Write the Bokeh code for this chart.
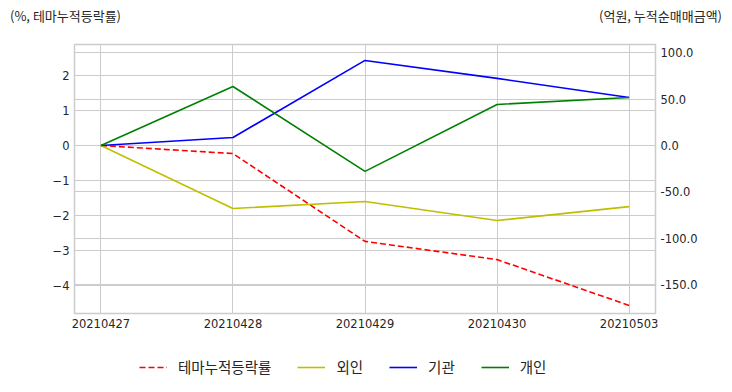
from bokeh.plotting import figure
from bokeh.models import (Range1d, LinearAxis, FixedTicker, NumeralTickFormatter,
                          Grid, Legend, LegendItem, Div)
from bokeh.layouts import column
from bokeh.embed import file_html
from bokeh.resources import INLINE

# ---- data ----
dates = ["20210427", "20210428", "20210429", "20210430", "20210503"]
theme_return = [0.0, -0.23, -2.74, -3.26, -4.57]      # %, left axis
foreign = [0.0, -68.0, -60.5, -81.0, -66.0]           # 억원, right axis
institution = [0.0, 8.6, 91.8, 72.4, 51.8]
individual = [0.0, 63.7, -28.0, 44.3, 51.8]
left_ticks = [2, 1, 0, -1, -2, -3, -4]
right_ticks = [100, 50, 0, -50, -100, -150]
series_names = ["테마누적등락률", "외인", "기관", "개인"]
series_colors = ["#ff0000", "#bfbf00", "#0000ff", "#008000"]
series_dash = ["6 3", "solid", "solid", "solid"]
left_title = "(%, 테마누적등락률)"
right_title = "(억원, 누적순매매금액)"

xs = list(range(len(dates)))
series_values = [theme_return, foreign, institution, individual]

GRID = "#cccccc"
TXT = "#262626"
NUM_FONT = "DejaVu Sans"
KR_FONT = "Noto Sans CJK KR"

W = 732
HEAD = 30          # header (axis titles)
MAIN = 310         # main chart
LEG = 52           # legend strip
BL, BR = 74, 77    # side borders

p = figure(width=W, height=MAIN, output_backend="svg", toolbar_location=None,
           x_range=Range1d(-0.2, 4.2), y_range=Range1d(-4.8, 2.886),
           min_border_left=BL, min_border_right=BR, min_border_top=14,
           min_border_bottom=27, margin=0)
p.extra_y_ranges = {"amt": Range1d(-181.4, 109.0)}

p.outline_line_color = GRID
p.outline_line_width = 1.5
p.background_fill_color = "white"
p.border_fill_color = "white"


def style_axis(ax):
    ax.axis_line_color = None
    ax.major_tick_line_color = None
    ax.minor_tick_line_color = None
    ax.major_tick_in = 0
    ax.major_tick_out = 0
    ax.minor_tick_in = 0
    ax.minor_tick_out = 0
    ax.major_label_text_color = TXT
    ax.major_label_text_font = NUM_FONT
    ax.major_label_text_font_size = "11.5px"


xa = p.xaxis[0]
xa.ticker = FixedTicker(ticks=xs)
xa.major_label_overrides = {i: d for i, d in zip(xs, dates)}
style_axis(xa)
xa.major_label_standoff = 5

ya = p.yaxis[0]
ya.ticker = FixedTicker(ticks=left_ticks)
style_axis(ya)
ya.major_label_standoff = 5

ra = LinearAxis(y_range_name="amt", ticker=FixedTicker(ticks=right_ticks),
                formatter=NumeralTickFormatter(format="0.0"))
style_axis(ra)
ra.major_label_standoff = 5
p.add_layout(ra, "right")

# grids (both axes' grids, like the twin-axis original)
p.xgrid.grid_line_color = GRID
p.xgrid.ticker = FixedTicker(ticks=xs)
p.ygrid.grid_line_color = GRID
p.ygrid.ticker = FixedTicker(ticks=left_ticks)
rgrid = Grid(dimension=1, ticker=FixedTicker(ticks=right_ticks), y_range_name="amt",
             grid_line_color=GRID)
p.add_layout(rgrid)

# lines
p.line(xs, theme_return, line_color=series_colors[0], line_width=1.6,
       line_dash=series_dash[0])
p.line(xs, foreign, line_color=series_colors[1], line_width=1.6, y_range_name="amt")
p.line(xs, institution, line_color=series_colors[2], line_width=1.6, y_range_name="amt")
p.line(xs, individual, line_color=series_colors[3], line_width=1.6, y_range_name="amt")

# legend strip below the chart (its own lines lie outside its view; only the
# legend swatches show)
lg = figure(width=W, height=LEG, output_backend="svg", toolbar_location=None,
            x_range=Range1d(0, 1), y_range=Range1d(1000, 1001),
            x_axis_type=None, y_axis_type=None,
            min_border_left=BL, min_border_right=BR, min_border_top=0,
            min_border_bottom=0, margin=0)
lg.outline_line_color = None
items = []
for name, col, dash, vals in zip(series_names, series_colors, series_dash, series_values):
    r = lg.line(xs, vals, line_color=col, line_width=1.6, line_dash=dash)
    items.append(LegendItem(label=name, renderers=[r]))
legend = Legend(items=items, orientation="horizontal", location=(139 - BL, 15),
                border_line_color=None, background_fill_alpha=0,
                glyph_width=28, glyph_height=16, label_height=16,
                label_standoff=11, spacing=26, padding=0, margin=0,
                label_text_font=KR_FONT, label_text_font_size="14.5px",
                label_text_color=TXT)
lg.add_layout(legend)

# header with the two axis titles
span_style = ("position:absolute;top:8px;font-family:'Noto Sans CJK KR';"
              "font-size:13px;line-height:16px;color:%s;white-space:nowrap;" % TXT)
head_html = (
    '<div style="position:relative;width:%dpx;height:%dpx;">' % (W, HEAD)
    + '<span style="%sleft:10px;">%s</span>' % (span_style, left_title)
    + '<span style="%sright:10px;">%s</span>' % (span_style, right_title)
    + '</div>'
)
head = Div(text=head_html, width=W, height=HEAD, margin=0)

layout = column(head, p, lg, spacing=0, margin=0)

open("out.html", "w").write(file_html(layout, INLINE))
